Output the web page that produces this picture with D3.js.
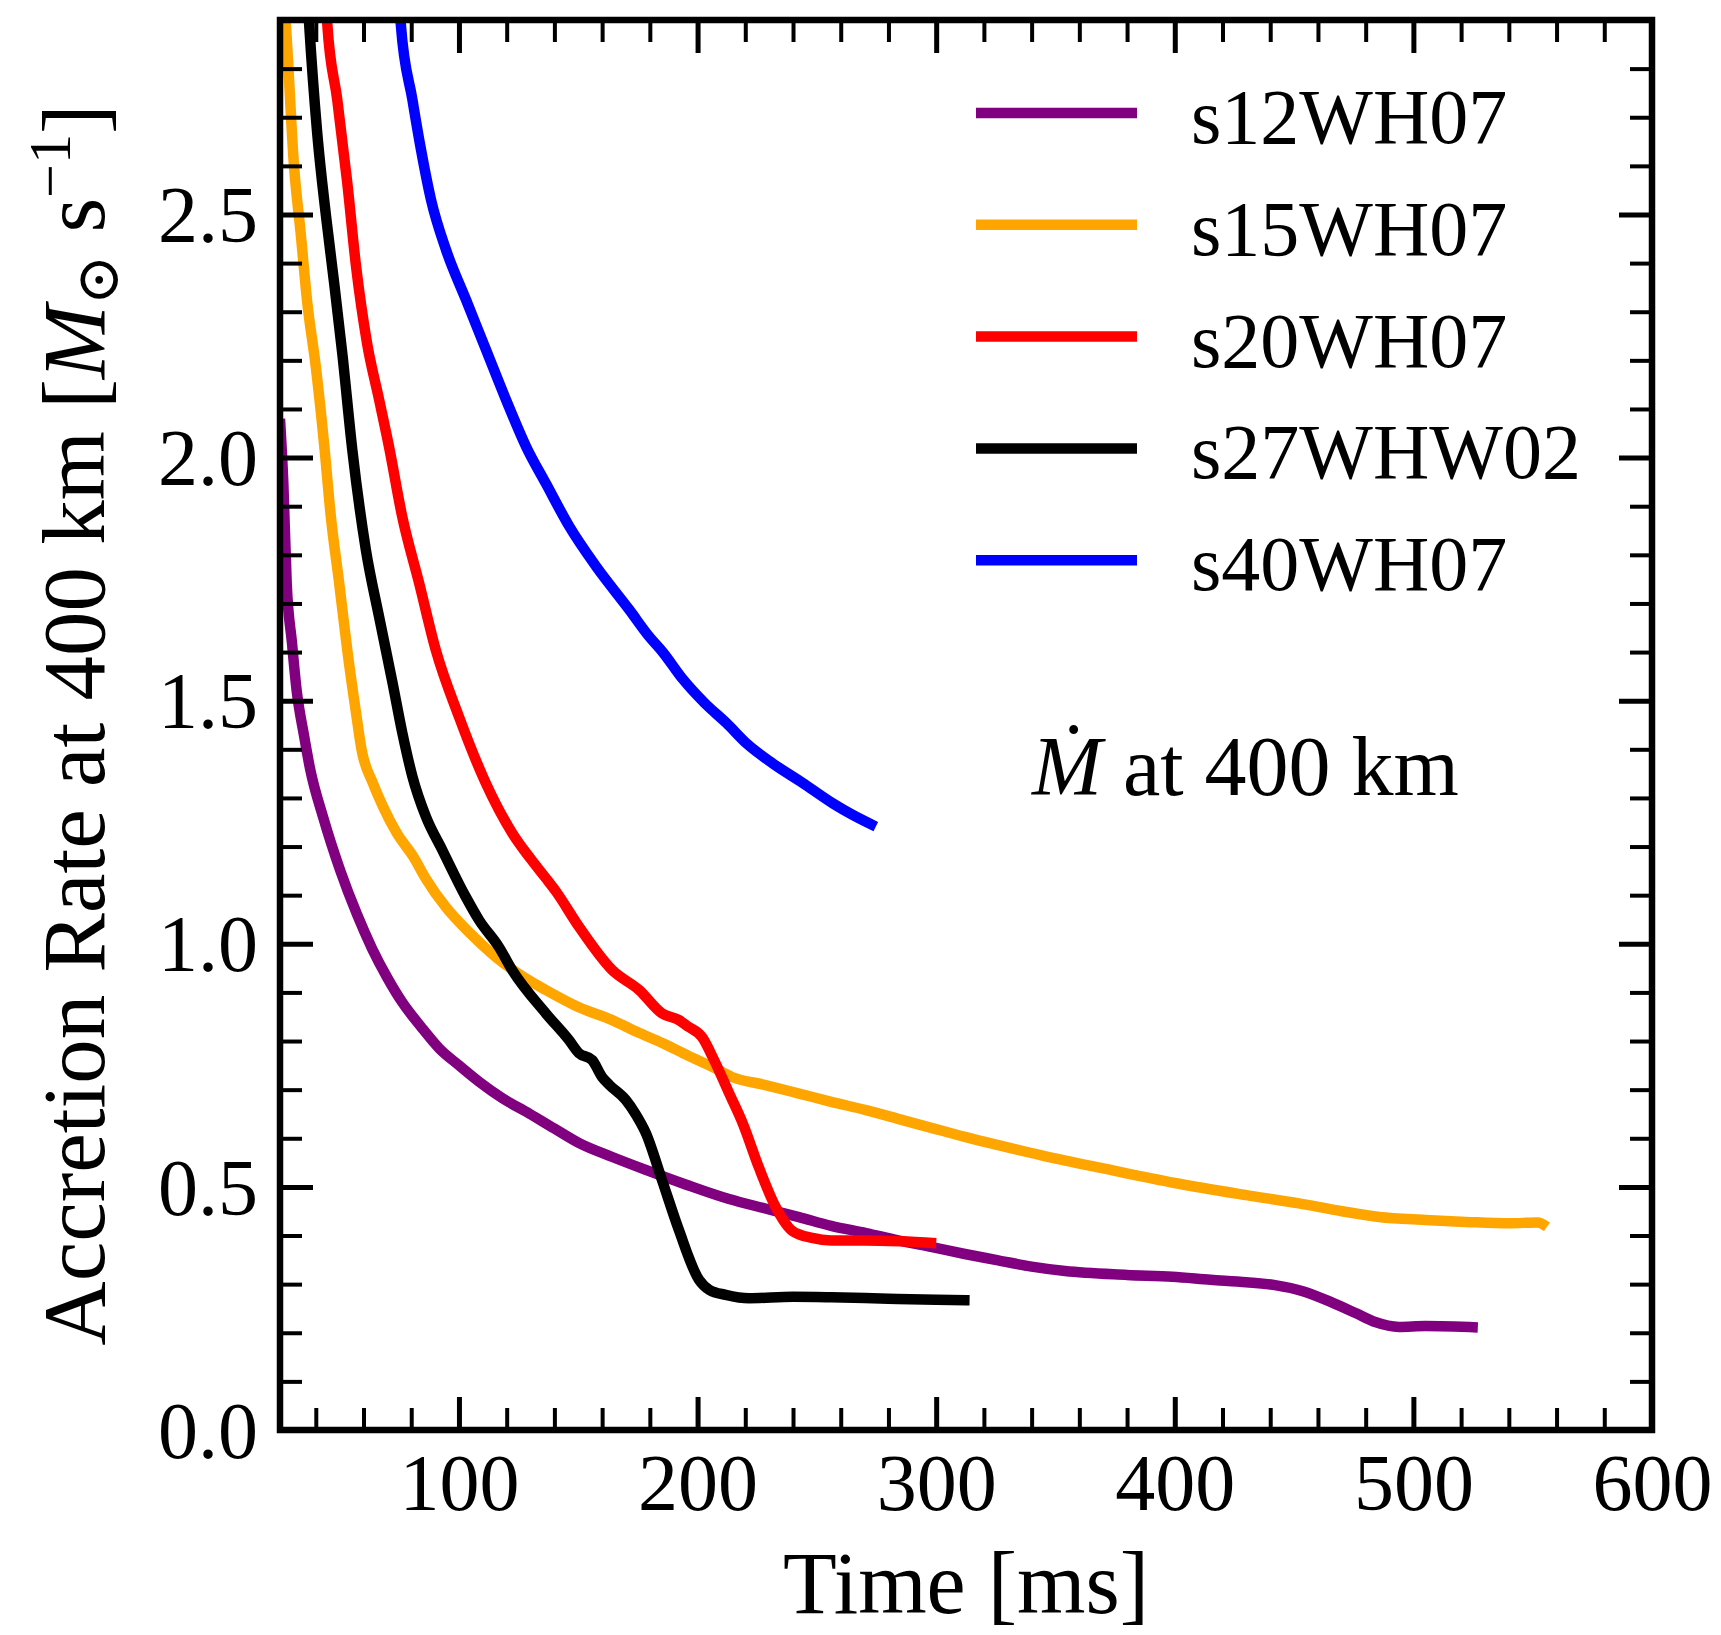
<!DOCTYPE html>
<html>
<head>
<meta charset="utf-8">
<script src="https://cdn.jsdelivr.net/npm/d3@7"></script>
<style>
  body { margin: 0; background: #fff; }
  text { font-family: "Liberation Serif", "DejaVu Serif", serif; fill: #000; }
</style>
</head>
<body>
<script>

// series (time in ms, accretion rate in Msun/s)
let names = ["s12WH07", "s15WH07", "s20WH07", "s27WHW02", "s40WH07"];
let colors = ["#800080", "#ffa500", "#ff0000", "#000000", "#0000ff"];

let t12 = [25, 26.4, 27.8, 30, 32, 35, 37.6, 43.1, 50.3, 57.3, 63.6, 70, 76.2, 84, 91.7, 100, 108.5, 118, 129.4, 140, 150.4, 164, 178.3, 195, 213.2, 228, 242.5, 256, 270.6, 284, 298.3, 312, 326, 340, 354, 380, 399, 415, 430, 442, 454, 466, 476, 484, 494, 505, 527];
let v12 = [2.08, 1.947, 1.742, 1.62, 1.52, 1.43, 1.36, 1.26, 1.15, 1.06, 0.99, 0.93, 0.88, 0.83, 0.785, 0.75, 0.716, 0.683, 0.651, 0.62, 0.59, 0.562, 0.535, 0.505, 0.475, 0.456, 0.438, 0.42, 0.405, 0.39, 0.376, 0.362, 0.349, 0.336, 0.327, 0.319, 0.315, 0.309, 0.304, 0.298, 0.285, 0.262, 0.24, 0.222, 0.212, 0.214, 0.211];

let t15 = [26.5, 27.4, 30.9, 33.7, 36.4, 40, 43.6, 46.3, 49.8, 53.2, 57.1, 59.2, 63.9, 68.2, 73.9, 80.9, 86, 94.4, 105, 115.4, 126, 136.4, 150, 164.2, 175, 185.2, 196, 206.1, 214.4, 228, 242.5, 256, 270.6, 284, 298.3, 312, 326, 345, 370, 400, 430, 452, 470, 485.6, 505, 522, 540, 552, 556];
let v15 = [2.95, 2.893, 2.598, 2.46, 2.32, 2.187, 2.022, 1.879, 1.742, 1.604, 1.467, 1.399, 1.331, 1.282, 1.228, 1.179, 1.135, 1.076, 1.02, 0.973, 0.935, 0.905, 0.87, 0.843, 0.818, 0.796, 0.77, 0.747, 0.726, 0.71, 0.692, 0.675, 0.658, 0.64, 0.621, 0.603, 0.586, 0.564, 0.538, 0.508, 0.483, 0.466, 0.45, 0.438, 0.432, 0.428, 0.425, 0.427, 0.418];

let t20 = [44.5, 44.8, 49, 53.2, 56.9, 61.5, 66.5, 70.7, 76.2, 83.3, 90.3, 100, 111.2, 122.3, 130, 136.4, 140.6, 150.3, 164.2, 175.5, 185.1, 192.2, 196, 201.9, 207, 213.2, 219, 225.7, 232.8, 239.6, 248, 256, 270, 285, 300];
let v20 = [2.95, 2.893, 2.736, 2.565, 2.392, 2.235, 2.12, 2.022, 1.879, 1.742, 1.604, 1.467, 1.331, 1.228, 1.175, 1.135, 1.108, 1.035, 0.946, 0.905, 0.857, 0.843, 0.83, 0.808, 0.76, 0.693, 0.63, 0.54, 0.458, 0.41, 0.395, 0.39, 0.39, 0.388, 0.384];

let t27 = [36.5, 37.2, 40.6, 44.2, 47.7, 51.2, 55.3, 61, 66.5, 72.2, 76.3, 80.5, 86.1, 93, 102.8, 108.4, 116.8, 122.3, 136.4, 146.1, 150.3, 155.8, 160, 163, 169.9, 174, 178.3, 185.1, 192.2, 200.6, 205, 211.8, 221.6, 240, 256, 280, 300, 314];
let v27 = [2.95, 2.893, 2.667, 2.5, 2.359, 2.21, 2.016, 1.81, 1.673, 1.536, 1.433, 1.344, 1.262, 1.193, 1.097, 1.049, 0.993, 0.946, 0.857, 0.802, 0.775, 0.761, 0.726, 0.71, 0.679, 0.65, 0.611, 0.514, 0.411, 0.309, 0.288, 0.278, 0.271, 0.274, 0.273, 0.27, 0.268, 0.267];

let t40 = [75, 75.6, 80.5, 84.1, 88.3, 94.6, 103, 111.4, 119.8, 128.2, 136.4, 146.3, 157.5, 171.4, 179.7, 185.4, 193.7, 203, 212.1, 221, 231.5, 244, 256.6, 265, 274.7];
let v40 = [2.95, 2.893, 2.736, 2.633, 2.53, 2.427, 2.324, 2.221, 2.118, 2.022, 1.947, 1.858, 1.776, 1.687, 1.632, 1.6, 1.545, 1.495, 1.454, 1.41, 1.371, 1.331, 1.289, 1.265, 1.241];

let xMajor = [100, 200, 300, 400, 500, 600];
let xMinor = [40, 60, 80, 120, 140, 160, 180, 220, 240, 260, 280, 320, 340, 360, 380, 420, 440, 460, 480, 520, 540, 560, 580];
let yMajor = [0, 0.5, 1.0, 1.5, 2.0, 2.5];
let yMinor = [0.1, 0.2, 0.3, 0.4, 0.6, 0.7, 0.8, 0.9, 1.1, 1.2, 1.3, 1.4, 1.6, 1.7, 1.8, 1.9, 2.1, 2.2, 2.3, 2.4, 2.6, 2.7, 2.8];

let times = [t12, t15, t20, t27, t40];
let values = [v12, v15, v20, v27, v40];

let plotL = 280, plotR = 1652, plotT = 20, plotB = 1430;

let svg = d3.select("body").append("svg")
	.attr("width", 1721)
	.attr("height", 1635);

let x = d3.scaleLinear().domain([25, 600]).range([plotL, plotR]);
let y = d3.scaleLinear().domain([0, 2.9]).range([plotB, plotT]);

svg.append("clipPath").attr("id", "plotclip")
	.append("rect")
	.attr("x", plotL).attr("y", plotT)
	.attr("width", plotR - plotL).attr("height", plotB - plotT);

// draw the curves
let line = d3.line()
	.curve(d3.curveMonotoneX)
	.x(d => x(d[0]))
	.y(d => y(d[1]));

let curves = svg.append("g").attr("clip-path", "url(#plotclip)");
for (var i = 0; i < names.length; i++) {
	let pts = times[i].map((t, k) => [t, values[i][k]]);
	curves.append("path")
		.datum(pts)
		.attr("d", line)
		.attr("fill", "none")
		.attr("stroke", colors[i])
		.attr("stroke-width", 10.5)
		.attr("stroke-linejoin", "round")
		.attr("stroke-linecap", "butt");
}

// axes, ticks pointing inward on all four sides
function styleAxis(g, w) {
	g.select(".domain").remove();
	g.selectAll(".tick line").attr("stroke", "#000").attr("stroke-width", w);
}

let fs = 80;

let bx = svg.append("g").attr("transform", `translate(0,${plotB})`)
	.call(d3.axisBottom(x).tickValues(xMajor).tickSize(-33).tickPadding(0).tickFormat(d3.format("d")));
styleAxis(bx, 5);
bx.selectAll("text").attr("dy", null).attr("y", 80).style("font-size", fs + "px");

let bxm = svg.append("g").attr("transform", `translate(0,${plotB})`)
	.call(d3.axisBottom(x).tickValues(xMinor).tickSize(-22).tickFormat(""));
styleAxis(bxm, 4);

let tx = svg.append("g").attr("transform", `translate(0,${plotT})`)
	.call(d3.axisTop(x).tickValues(xMajor).tickSize(-33).tickFormat(""));
styleAxis(tx, 5);
let txm = svg.append("g").attr("transform", `translate(0,${plotT})`)
	.call(d3.axisTop(x).tickValues(xMinor).tickSize(-22).tickFormat(""));
styleAxis(txm, 4);

let ly = svg.append("g").attr("transform", `translate(${plotL},0)`)
	.call(d3.axisLeft(y).tickValues(yMajor).tickSize(-33).tickPadding(22).tickFormat(d3.format(".1f")));
styleAxis(ly, 5);
ly.selectAll("text").attr("dy", "0.34em").style("font-size", fs + "px");

let lym = svg.append("g").attr("transform", `translate(${plotL},0)`)
	.call(d3.axisLeft(y).tickValues(yMinor).tickSize(-22).tickFormat(""));
styleAxis(lym, 4);

let ry = svg.append("g").attr("transform", `translate(${plotR},0)`)
	.call(d3.axisRight(y).tickValues(yMajor).tickSize(-33).tickFormat(""));
styleAxis(ry, 5);
let rym = svg.append("g").attr("transform", `translate(${plotR},0)`)
	.call(d3.axisRight(y).tickValues(yMinor).tickSize(-22).tickFormat(""));
styleAxis(rym, 4);

// frame
svg.append("rect")
	.attr("x", plotL).attr("y", plotT)
	.attr("width", plotR - plotL).attr("height", plotB - plotT)
	.attr("fill", "none")
	.attr("stroke", "#000")
	.attr("stroke-width", 6.5);

// axis labels
svg.append("text")
	.attr("x", (plotL + plotR) / 2)
	.attr("y", 1613)
	.attr("text-anchor", "middle")
	.style("font-size", "88px")
	.text("Time [ms]");

let yl = svg.append("text")
	.attr("transform", `translate(104,${(plotT + plotB) / 2}) rotate(-90)`)
	.attr("text-anchor", "middle")
	.style("font-size", "89px");
yl.append("tspan").text("Accretion Rate at 400 km [");
yl.append("tspan").style("font-style", "italic").text("M");
yl.append("tspan").attr("dy", 14).style("font-size", "60px").text("\u2299");
yl.append("tspan").attr("dy", -14).text(" s");
yl.append("tspan").attr("dy", -34).style("font-size", "60px").text("\u22121");
yl.append("tspan").attr("dy", 34).text("]");

// legend
let legend = svg.append("g");
names.forEach((n, k) => {
	let ly0 = 113 + k * 111.8;
	legend.append("line")
		.attr("x1", 976).attr("x2", 1137)
		.attr("y1", ly0).attr("y2", ly0)
		.attr("stroke", colors[k])
		.attr("stroke-width", 10.5);
	legend.append("text")
		.attr("x", 1191)
		.attr("y", ly0 + 30)
		.style("font-size", "78px")
		.text(n);
});

// annotation
let ann = svg.append("text")
	.attr("x", 1032)
	.attr("y", 795)
	.style("font-size", "84px");
ann.append("tspan").style("font-style", "italic").text("\u1E40");
ann.append("tspan").text(" at 400 km");

</script>
</body>
</html>
